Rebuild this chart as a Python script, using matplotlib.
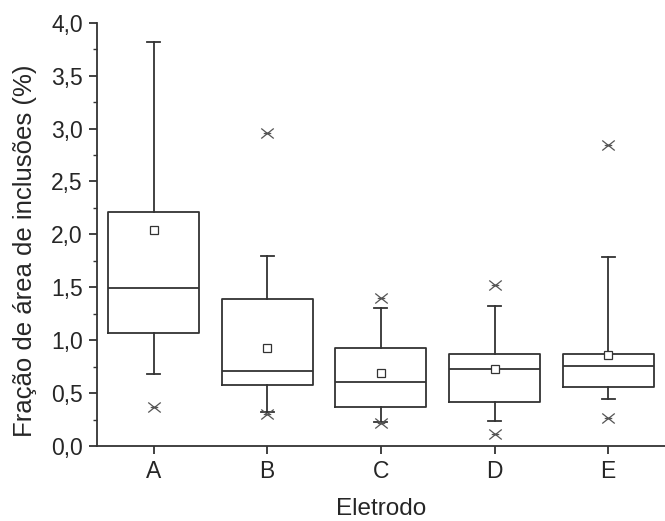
import matplotlib.pyplot as plt
from matplotlib.path import Path
from matplotlib.ticker import FuncFormatter, MultipleLocator

plt.rcParams['font.family'] = ['Liberation Sans', 'DejaVu Sans']

eletrodos = ['A', 'B', 'C', 'D', 'E']
q1 = [1.065, 0.577, 0.372, 0.419, 0.558]
median = [1.493, 0.709, 0.608, 0.731, 0.759]
q3 = [2.215, 1.392, 0.926, 0.870, 0.870]
whis_lo = [0.68, 0.318, 0.224, 0.239, 0.447]
whis_hi = [3.815, 1.793, 1.301, 1.323, 1.783]
mean = [2.04, 0.923, 0.693, 0.731, 0.857]
extremos = [[0.366], [0.30, 2.96], [0.214, 1.402], [0.117, 1.522], [0.268, 2.84]]

cor = '#333333'
cor_texto = '#262626'

# "x" com barra horizontal, como o marcador de min/max do Origin
marcador_x = Path([(-1, -0.8), (1, 0.8), (-1, 0.8), (1, -0.8), (-0.6, 0), (0.6, 0)],
                  [Path.MOVETO, Path.LINETO, Path.MOVETO, Path.LINETO,
                   Path.MOVETO, Path.LINETO])

stats = []
for i, nome in enumerate(eletrodos):
    stats.append(dict(label=nome, q1=q1[i], med=median[i], q3=q3[i],
                      whislo=whis_lo[i], whishi=whis_hi[i], mean=mean[i],
                      fliers=extremos[i]))

fig = plt.figure(figsize=(6.65, 5.21), dpi=100)
ax = fig.add_axes([0.1454, 0.144, 0.8546, 0.8124])

ax.bxp(stats, positions=range(len(eletrodos)), widths=0.8, showmeans=True,
       showfliers=True, capwidths=0.115,
       boxprops=dict(color=cor, linewidth=1.3),
       medianprops=dict(color=cor, linewidth=1.3),
       whiskerprops=dict(color=cor, linewidth=1.3),
       capprops=dict(color=cor, linewidth=1.3),
       meanprops=dict(marker='s', markersize=6, markerfacecolor='white',
                      markeredgecolor=cor, markeredgewidth=0.9),
       flierprops=dict(marker=marcador_x, markersize=9, markeredgecolor='#555555',
                       markeredgewidth=0.9, linestyle='none'))

ax.set_xlim(-0.5, 4.5)
ax.set_ylim(0, 4.0)
ax.yaxis.set_major_locator(MultipleLocator(0.5))
ax.yaxis.set_minor_locator(MultipleLocator(0.25))
ax.yaxis.set_major_formatter(FuncFormatter(lambda v, p: f'{v:.1f}'.replace('.', ',')))

for lado in ['top', 'right']:
    ax.spines[lado].set_visible(False)
for lado in ['left', 'bottom']:
    ax.spines[lado].set_color(cor)
    ax.spines[lado].set_linewidth(1.3)

ax.tick_params(axis='both', which='major', direction='out', length=6, width=1.3,
               color=cor, labelsize=16.5, labelcolor=cor_texto, pad=4)
ax.tick_params(axis='y', which='minor', direction='out', length=3, width=1.0, color=cor)

fig.text(381 / 665, 1 - 515 / 521, 'Eletrodo', fontsize=17.5, color=cor_texto,
         ha='center', va='baseline')
fig.text(32 / 665, 1 - 251 / 521, 'Fração de área de inclusões (%)', fontsize=18.5,
         color=cor_texto, rotation=90, rotation_mode='anchor',
         ha='center', va='baseline')

fig.savefig('out.png', dpi=100)
